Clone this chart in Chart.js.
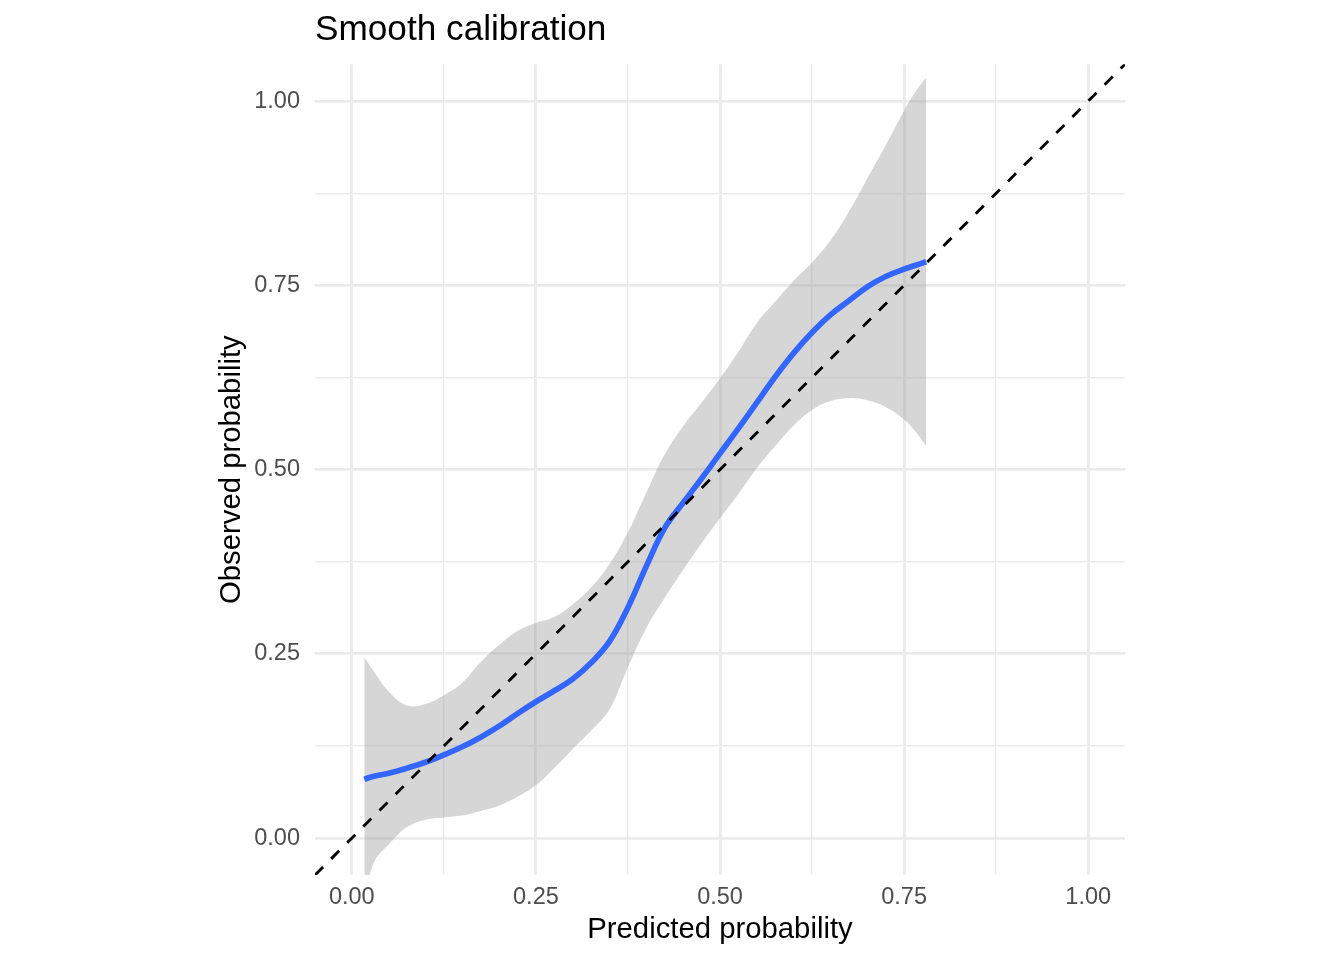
<!DOCTYPE html>
<html>
<head>
<meta charset="utf-8">
<title>Smooth calibration</title>
<script src="https://cdn.jsdelivr.net/npm/chart.js@4.4.1/dist/chart.umd.min.js"></script>
<style>
  html, body { margin: 0; padding: 0; background: #fff; }
  #calibrationChart { display: block; }
</style>
</head>
<body>
<canvas id="calibrationChart" width="1344" height="960"></canvas>
<script>
// values
var predicted = [0.017, 0.03, 0.05, 0.075, 0.1, 0.125, 0.15, 0.175, 0.2, 0.225, 0.25, 0.275, 0.3, 0.325, 0.35, 0.375,
  0.4, 0.425, 0.45, 0.475, 0.5, 0.525, 0.55, 0.575, 0.6, 0.625, 0.65, 0.675, 0.7, 0.725, 0.75, 0.765, 0.78];
var observed = [0.080, 0.084, 0.088, 0.095, 0.103, 0.113, 0.124, 0.137, 0.152, 0.169, 0.185, 0.200, 0.216, 0.238, 0.267, 0.313,
  0.369, 0.421, 0.455, 0.488, 0.522, 0.556, 0.591, 0.626, 0.658, 0.686, 0.710, 0.729, 0.748, 0.762, 0.772, 0.777, 0.782];
var upperBand = [0.245, 0.226, 0.199, 0.180, 0.182, 0.194, 0.211, 0.239, 0.262, 0.281, 0.292, 0.300, 0.317, 0.340, 0.372, 0.415,
  0.469, 0.521, 0.559, 0.591, 0.624, 0.660, 0.699, 0.728, 0.756, 0.781, 0.811, 0.850, 0.895, 0.940, 0.987, 1.012, 1.032];
var lowerBand = [-0.085, -0.033, -0.009, 0.015, 0.025, 0.028, 0.031, 0.037, 0.044, 0.056, 0.072, 0.095, 0.121, 0.146, 0.175, 0.232,
  0.285, 0.326, 0.364, 0.400, 0.434, 0.467, 0.502, 0.532, 0.560, 0.581, 0.593, 0.597, 0.594, 0.585, 0.568, 0.552, 0.532];
var diagonal = [-0.05, 1.05];

var majorTicks = [0, 0.25, 0.5, 0.75, 1];
var minorTicks = [0.125, 0.375, 0.625, 0.875];
var tickLabels = ['0.00', '0.25', '0.50', '0.75', '1.00'];

Chart.defaults.font.family = "'Liberation Sans', Arial, Helvetica, sans-serif";

function toPoints(xs, ys) {
  return xs.map(function(x, i) {
    return { x: x, y: ys[i] };
  });
}

function axisOptions(titleText, tickPadding, titlePadding, fit) {
  return {
    type: 'linear',
    min: -0.05,
    max: 1.05,
    afterBuildTicks: function(scale) {
      scale.ticks = majorTicks.concat(minorTicks).sort(function(a, b) { return a - b; }).map(function(v) {
        return { value: v };
      });
    },
    afterFit: fit,
    ticks: {
      autoSkip: false,
      maxRotation: 0,
      padding: tickPadding,
      color: '#4D4D4D',
      font: { size: 23.5 },
      callback: function(value) {
        var i = majorTicks.indexOf(value);
        return i >= 0 ? tickLabels[i] : '';
      }
    },
    grid: {
      color: '#EBEBEB',
      drawTicks: false,
      lineWidth: function(ctx) {
        return ctx.tick && majorTicks.indexOf(ctx.tick.value) >= 0 ? 2.85 : 1.42;
      }
    },
    border: { display: false },
    title: {
      display: true,
      text: titleText,
      color: '#000',
      font: { size: 29.3 },
      padding: titlePadding
    }
  };
}

var ctx = document.getElementById('calibrationChart').getContext('2d');
var chart = new Chart(ctx, {
  type: 'line',
  data: {
    datasets: [
      {
        label: 'diagonal',
        data: toPoints(diagonal, diagonal),
        borderColor: '#000000',
        borderWidth: 2.85,
        borderDash: [11.4, 11.4],
        pointRadius: 0,
        fill: false,
        order: 0
      },
      {
        label: 'smooth',
        data: toPoints(predicted, observed),
        borderColor: '#3366FF',
        borderWidth: 5.7,
        pointRadius: 0,
        tension: 0.4,
        fill: false,
        order: 1
      },
      {
        label: 'upper',
        data: toPoints(predicted, upperBand),
        borderWidth: 0,
        borderColor: 'rgba(0,0,0,0)',
        backgroundColor: 'rgba(153, 153, 153, 0.4)',
        pointRadius: 0,
        tension: 0.4,
        fill: '+1',
        order: 2
      },
      {
        label: 'lower',
        data: toPoints(predicted, lowerBand),
        borderWidth: 0,
        borderColor: 'rgba(0,0,0,0)',
        pointRadius: 0,
        tension: 0.4,
        fill: false,
        order: 3
      }
    ]
  },
  options: {
    responsive: false,
    animation: false,
    devicePixelRatio: 1,
    layout: {
      padding: { left: 200, right: 219, top: 0, bottom: 0 }
    },
    scales: {
      x: axisOptions('Predicted probability', 8, { top: 0, bottom: 13 }, function(scale) { scale.height = 85; }),
      y: axisOptions('Observed probability', 15, { top: 14.4, bottom: 0 }, function(scale) { scale.width = 115; })
    },
    plugins: {
      legend: { display: false },
      tooltip: { enabled: false },
      title: {
        display: true,
        text: 'Smooth calibration',
        align: 'start',
        fullSize: false,
        color: '#000',
        font: { size: 35.2, weight: 'normal' },
        padding: { top: 9, bottom: 13 }
      }
    }
  }
});
</script>
</body>
</html>
